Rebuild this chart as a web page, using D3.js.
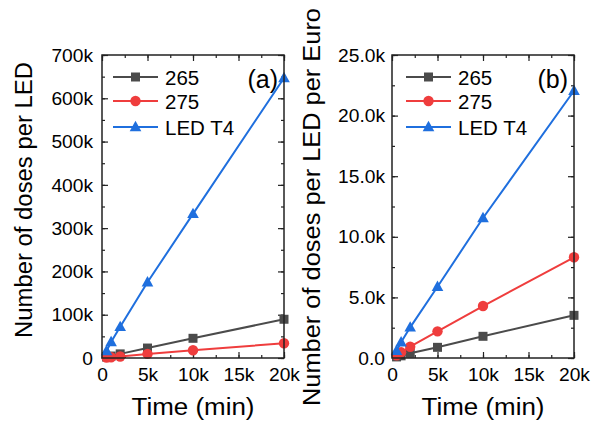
<!DOCTYPE html>
<html>
<head>
<meta charset="utf-8">
<script src="https://cdn.jsdelivr.net/npm/d3@7"></script>
<style>
  body { margin: 0; background: white; }
  text { font-family: "Liberation Sans", Arial, sans-serif; fill: #000; }
</style>
</head>
<body>
<script>
// time points (min)
var times = [500, 1000, 2000, 5000, 10000, 20000];
var seriesNames = ["265", "275", "LED T4"];
var seriesColors = ["#4b4b4b", "#ef3d3d", "#1f6fde"];
var seriesShapes = ["square", "circle", "triangle"];

// (a) doses per LED
var perLed265 = [2200, 4500, 9500, 23000, 45500, 89500];
var perLed275 = [900, 1700, 3500, 9500, 18000, 34000];
var perLedT4 = [16000, 37000, 72000, 175000, 333000, 647000];

// (b) doses per LED per Euro
var perEuro265 = [90, 180, 390, 880, 1790, 3520];
var perEuro275 = [230, 470, 930, 2200, 4290, 8310];
var perEuroT4 = [600, 1300, 2530, 5880, 11550, 22050];

var xTicks = [0, 5000, 10000, 15000, 20000];
var xTickLabels = ["0", "5k", "10k", "15k", "20k"];
var yTicksA = [0, 100000, 200000, 300000, 400000, 500000, 600000, 700000];
var yTickLabelsA = ["0", "100k", "200k", "300k", "400k", "500k", "600k", "700k"];
var yTicksB = [0, 5000, 10000, 15000, 20000, 25000];
var yTickLabelsB = ["0.0", "5.0k", "10.0k", "15.0k", "20.0k", "25.0k"];

var width = 601, height = 428;
var svg = d3.select("body").append("svg").attr("width", width).attr("height", height);

function markerPath(shape) {
    if (shape == "square") return "M-4.5,-4.5H4.5V4.5H-4.5Z";
    if (shape == "circle") return "M5.2,0A5.2,5.2 0 1 1 -5.2,0A5.2,5.2 0 1 1 5.2,0Z";
    return "M0,-6.2L5.8,4.2H-5.8Z";
}

function drawPanel(opts) {
    var g = svg.append("g");
    var x = d3.scaleLinear().domain([0, 20000]).range([opts.left, opts.right]);
    var y = d3.scaleLinear().domain([0, opts.yMax]).range([358, 55]);

    var clipId = "clip" + opts.tag;
    g.append("clipPath").attr("id", clipId)
        .append("rect")
        .attr("x", opts.left).attr("y", 55)
        .attr("width", opts.right - opts.left).attr("height", 303);

    // axes, ticks inward
    var xMinor = d3.range(0, 20001, 2500);
    var yMinor = d3.range(0, opts.yMax + 1, opts.yMinorStep);

    g.append("g").attr("transform", "translate(0,358)")
        .call(d3.axisBottom(x).tickValues(xMinor).tickFormat("").tickSize(-3));
    g.append("g").attr("transform", "translate(0,358)")
        .call(d3.axisBottom(x).tickValues(xTicks).tickSize(-6).tickPadding(9)
            .tickFormat((d, i) => xTickLabels[i]));
    g.append("g").attr("transform", "translate(0,55)")
        .call(d3.axisTop(x).tickValues(xMinor).tickFormat("").tickSize(-3));
    g.append("g").attr("transform", "translate(0,55)")
        .call(d3.axisTop(x).tickValues(xTicks).tickFormat("").tickSize(-6));

    g.append("g").attr("transform", "translate(" + opts.left + ",0)")
        .call(d3.axisLeft(y).tickValues(yMinor).tickFormat("").tickSize(-3));
    g.append("g").attr("transform", "translate(" + opts.left + ",0)")
        .call(d3.axisLeft(y).tickValues(opts.yTicks).tickSize(-6).tickPadding(opts.yPad)
            .tickFormat((d, i) => opts.yLabels[i]));
    g.append("g").attr("transform", "translate(" + opts.right + ",0)")
        .call(d3.axisRight(y).tickValues(yMinor).tickFormat("").tickSize(-3));
    g.append("g").attr("transform", "translate(" + opts.right + ",0)")
        .call(d3.axisRight(y).tickValues(opts.yTicks).tickFormat("").tickSize(-6));

    g.selectAll(".domain").remove();
    g.selectAll(".tick line").attr("stroke", "#222").attr("stroke-width", 1.2);
    g.selectAll(".tick text").attr("font-size", 19.2)
        .style("font-family", "'Liberation Sans', Arial, sans-serif").attr("fill", "#000");

    // series
    var plot = g.append("g").attr("clip-path", "url(#" + clipId + ")");
    var line = d3.line().x((d) => x(d.t)).y((d) => y(d.v));
    opts.series.forEach(function (vals, s) {
        var pts = times.map((t, i) => ({ t: t, v: vals[i] }));
        plot.append("path").datum(pts)
            .attr("d", line)
            .attr("fill", "none")
            .attr("stroke", seriesColors[s])
            .attr("stroke-width", 2);
        plot.selectAll(null).data(pts).enter().append("path")
            .attr("d", markerPath(seriesShapes[s]))
            .attr("transform", (d) => "translate(" + x(d.t) + "," + y(d.v) + ")")
            .attr("fill", seriesColors[s]);
    });

    // frame
    g.append("rect")
        .attr("x", opts.left).attr("y", 55)
        .attr("width", opts.right - opts.left).attr("height", 303)
        .attr("fill", "none").attr("stroke", "#222").attr("stroke-width", 1.5);

    // legend
    var rowY = [77, 101, 127];
    seriesNames.forEach(function (name, s) {
        var lg = g.append("g").attr("transform", "translate(" + opts.legX + "," + rowY[s] + ")");
        lg.append("line").attr("x1", 0).attr("x2", 45)
            .attr("stroke", seriesColors[s]).attr("stroke-width", 2);
        lg.append("path").attr("d", markerPath(seriesShapes[s]))
            .attr("transform", "translate(22.5,0)")
            .attr("fill", seriesColors[s]);
        lg.append("text").attr("x", 52).attr("y", 7.5)
            .attr("font-size", 20.5).text(name);
    });

    g.append("text")
        .attr("x", opts.right - 6).attr("y", 88)
        .attr("text-anchor", "end")
        .attr("font-size", 25)
        .text(opts.tag);

    // axis titles
    g.append("text")
        .attr("x", (opts.left + opts.right) / 2).attr("y", 415)
        .attr("text-anchor", "middle")
        .attr("font-size", 23)
        .attr("textLength", 123).attr("lengthAdjust", "spacingAndGlyphs")
        .text("Time (min)");

    g.append("text")
        .attr("transform", "translate(" + opts.titleX + "," + opts.titleY + ") rotate(-90)")
        .attr("text-anchor", "middle")
        .attr("font-size", 23)
        .attr("textLength", opts.titleLen).attr("lengthAdjust", "spacingAndGlyphs")
        .text(opts.title);
}

drawPanel({
    tag: "(a)",
    left: 102, right: 284,
    yMax: 700000, yMinorStep: 50000,
    yTicks: yTicksA, yLabels: yTickLabelsA, yPad: 9,
    series: [perLed265, perLed275, perLedT4],
    legX: 113,
    title: "Number of doses per LED", titleX: 32, titleY: 200, titleLen: 276
});

drawPanel({
    tag: "(b)",
    left: 392, right: 574,
    yMax: 25000, yMinorStep: 2500,
    yTicks: yTicksB, yLabels: yTickLabelsB, yPad: 7,
    series: [perEuro265, perEuro275, perEuroT4],
    legX: 406,
    title: "Number of doses per LED per Euro", titleX: 320, titleY: 207, titleLen: 398
});
</script>
</body>
</html>
